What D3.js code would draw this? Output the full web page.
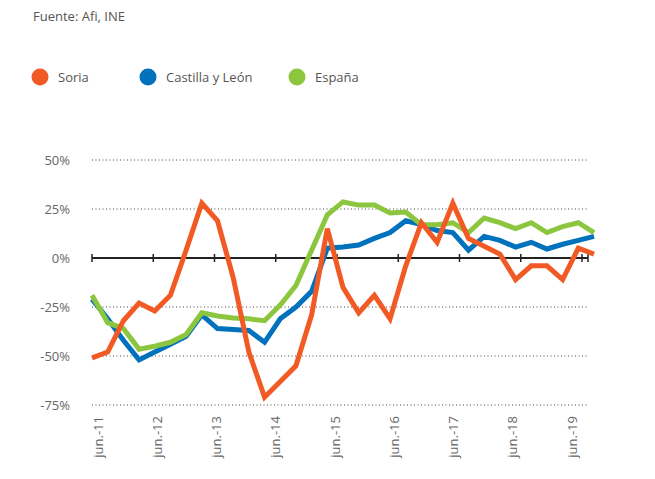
<!DOCTYPE html>
<html lang="es">
<head>
<meta charset="utf-8">
<title>Soria, Castilla y León, España</title>
<script src="https://cdn.jsdelivr.net/npm/d3@7"></script>
<style>
  body { margin: 0; background: #fff; }
  text { font-family: "Open Sans", "Noto Sans", sans-serif; }
</style>
</head>
<body>
<div id="main"></div>
<script>

// quarterly data jun-11 .. jun-19 (33 points), % change
var years = ['jun.-11','jun.-12','jun.-13','jun.-14','jun.-15','jun.-16','jun.-17','jun.-18','jun.-19']
var yTicks = [50, 25, 0, -25, -50, -75]

var soria = [-51,-48,-32,-23,-27,-19,4,28,19,-10,-48,-71,-63,-55,-29,15,-15,-28,-19,-31,-4,18,8,28,10,6,2,-11,-4,-4,-11,5,2]
var castilla = [-21,-31,-42,-52,-48,-44,-40,-29,-36,-36.5,-37,-43,-31,-25,-17,5,5.6,6.6,10,13,19,17,14,13,4,11,9,5.6,8,4.6,7,9,11]
var espana = [-19,-33,-36,-46.5,-45,-43,-39,-28,-29.6,-30.6,-31,-32,-24,-14,4,22,28.6,27,27,23,23.5,17,17,18,13,20.4,18,15,18,13,16,18,13]

var series = [
  {name: 'Soria', values: soria, color: '#f15a24'},
  {name: 'Castilla y León', values: castilla, color: '#0071bc'},
  {name: 'España', values: espana, color: '#8cc63f'}
]

var width = 655, height = 479

var svg = d3.select('#main').append('svg').attr('width', width).attr('height', height)

var x = d3.scaleLinear().domain([0, soria.length - 1]).range([92, 594])
var y = d3.scaleLinear().domain([-75, 50]).range([405, 160])
var tickX = d3.scalePoint().domain(years).range([92, 582])
var labelX = d3.scalePoint().domain(years).range([98, 572])

// source
svg.append('text').attr('x', 33).attr('y', 21)
  .style('font-size', '13px').attr('fill', '#555').text('Fuente: Afi, INE')

// legend
var legendX = [40, 148, 297]
var leg = svg.selectAll('g.leg').data(series).enter().append('g')
  .attr('class', 'leg')
  .attr('transform', function(d, i){ return 'translate(' + legendX[i] + ',77)' })
leg.append('circle').attr('r', 8.5).attr('fill', function(d){ return d.color })
leg.append('text').attr('x', 18).attr('dy', '0.35em')
  .style('font-size', '13px').attr('fill', '#555').text(function(d){ return d.name })

// grid lines
svg.selectAll('line.grid').data(yTicks.filter(function(d){ return d !== 0 })).enter()
  .append('line').attr('class', 'grid')
  .attr('x1', 92).attr('x2', 589)
  .attr('y1', function(d){ return y(d) }).attr('y2', function(d){ return y(d) })
  .attr('stroke', '#444').attr('stroke-width', 1).attr('stroke-dasharray', '1,2.5')

// y labels
svg.selectAll('text.ylab').data(yTicks).enter().append('text').attr('class', 'ylab')
  .attr('x', 70).attr('y', function(d){ return y(d) }).attr('dy', '0.35em')
  .attr('text-anchor', 'end').style('font-size', '13px').attr('fill', '#666')
  .text(function(d){ return d + '%' })

// zero axis with ticks
svg.append('line').attr('x1', 92).attr('x2', 588).attr('y1', y(0)).attr('y2', y(0))
  .attr('stroke', '#222').attr('stroke-width', 2)
svg.selectAll('line.tk').data(years.concat(['end'])).enter().append('line').attr('class', 'tk')
  .attr('x1', function(d){ return d === 'end' ? 588 : tickX(d) })
  .attr('x2', function(d){ return d === 'end' ? 588 : tickX(d) })
  .attr('y1', y(0) - 4).attr('y2', y(0) + 4)
  .attr('stroke', '#222').attr('stroke-width', 1.5)

// x labels (rotated)
svg.selectAll('text.xlab').data(years).enter().append('text').attr('class', 'xlab')
  .attr('transform', function(d){ return 'translate(' + labelX(d) + ',416) rotate(-90)' })
  .attr('text-anchor', 'end').attr('dy', '0.35em')
  .style('font-size', '13px').attr('fill', '#666')
  .text(function(d){ return d })

// lines
var line = d3.line().x(function(d, i){ return x(i) }).y(function(d){ return y(d) })

svg.selectAll('path.serie').data([series[1], series[2], series[0]]).enter()
  .append('path').attr('class', 'serie')
  .attr('d', function(d){ return line(d.values) })
  .attr('fill', 'none').attr('stroke', function(d){ return d.color })
  .attr('stroke-width', 5).attr('stroke-linejoin', 'miter')

</script>
</body>
</html>
